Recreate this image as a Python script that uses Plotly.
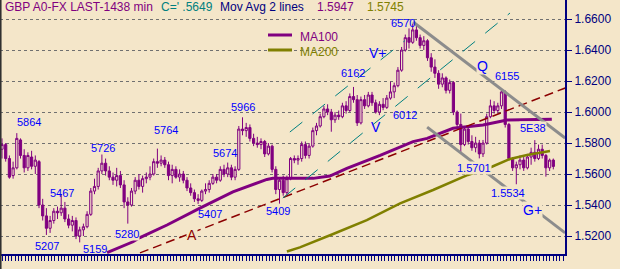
import plotly.graph_objects as go

# ---------------- data (prices in pips: 5864 -> 1.5864) ----------------
opens = [5760,5790,5700,5590,5640,5820,5720,5640,5710,5650,
         5680,5400,5330,5250,5300,5360,5350,5380,5310,5270,
         5300,5200,5240,5260,5340,5490,5520,5620,5670,5620,
         5580,5560,5590,5530,5420,5400,5490,5560,5520,5570,
         5580,5600,5680,5670,5690,5660,5590,5630,5580,5600,
         5560,5510,5480,5440,5430,5490,5500,5540,5580,5560,
         5630,5600,5640,5580,5630,5890,5880,5900,5830,5800,
         5790,5810,5730,5780,5630,5500,5560,5480,5570,5700,
         5690,5700,5790,5720,5780,5880,5910,5970,6020,6000,
         5950,5980,5970,6040,6010,6100,6080,5930,6080,6040,
         6110,6060,6000,6050,6030,6090,6130,6170,6270,6400,
         6480,6450,6530,6480,6430,6460,6350,6290,6250,6180,
         6220,6140,6190,6000,5920,5790,5890,5810,5770,5800,
         5730,5800,5970,6040,6010,6040,6130,5920,5700,5640,
         5660,5690,5640,5710,5740,5700,5760,5720,5640,5690]
highs = [5830,5800,5720,5680,5864,5830,5760,5740,5750,5720,
         5690,5440,5380,5330,5380,5390,5467,5420,5340,5330,
         5320,5260,5280,5360,5510,5570,5640,5726,5700,5650,
         5610,5640,5620,5560,5450,5510,5580,5600,5590,5610,
         5650,5700,5764,5720,5710,5680,5660,5650,5630,5620,
         5580,5540,5500,5470,5500,5540,5560,5600,5600,5650,
         5660,5674,5660,5650,5910,5966,5930,5920,5860,5840,
         5830,5820,5800,5790,5650,5580,5590,5590,5710,5720,
         5720,5810,5810,5800,5900,5930,5990,6040,6050,6020,
         6000,6010,6060,6070,6120,6162,6110,6100,6110,6130,
         6130,6080,6070,6090,6110,6196,6190,6290,6420,6500,
         6540,6570,6560,6500,6490,6470,6380,6340,6270,6250,
         6230,6210,6200,6010,5990,5910,5900,5850,5840,5820,
         5820,5990,6080,6070,6060,6155,6140,5930,5710,5680,
         5720,5710,5730,5770,5819,5790,5790,5730,5700,5700]
lows = [5700,5680,5570,5570,5630,5700,5610,5620,5630,5600,
        5380,5300,5207,5220,5280,5310,5330,5290,5250,5230,
        5180,5159,5200,5250,5330,5470,5500,5600,5590,5560,
        5530,5520,5510,5380,5280,5390,5470,5500,5480,5540,
        5560,5590,5640,5650,5640,5560,5540,5570,5550,5540,
        5490,5460,5420,5407,5420,5470,5480,5530,5540,5550,
        5580,5580,5560,5560,5620,5850,5840,5810,5780,5770,
        5760,5710,5720,5610,5470,5409,5460,5460,5560,5670,
        5660,5680,5700,5700,5770,5850,5900,5960,5980,5873,
        5930,5950,5960,5990,6000,6060,5910,5920,6020,6030,
        6040,5990,5980,6012,6020,6080,6090,6160,6260,6390,
        6410,6440,6460,6410,6400,6330,6260,6220,6150,6160,
        6120,6120,5980,5900,5733,5780,5790,5750,5740,5701,
        5710,5790,5960,5990,5990,6020,5900,5690,5620,5534,
        5630,5620,5630,5660,5680,5690,5700,5583,5620,5630]
closes = [5790,5700,5580,5640,5830,5720,5640,5720,5650,5690,
          5400,5330,5250,5300,5360,5350,5380,5310,5270,5300,
          5200,5240,5260,5340,5490,5520,5620,5670,5620,5580,
          5560,5590,5530,5420,5400,5490,5560,5520,5570,5580,
          5600,5680,5670,5690,5660,5590,5630,5580,5600,5560,
          5510,5480,5440,5430,5490,5500,5540,5580,5560,5630,
          5600,5640,5580,5630,5890,5880,5900,5830,5800,5790,
          5810,5730,5780,5630,5500,5560,5480,5570,5700,5690,
          5700,5790,5720,5780,5880,5910,5970,6020,6000,5950,
          5980,5970,6040,6010,6100,6080,5930,6080,6040,6110,
          6060,6000,6050,6030,6090,6130,6170,6270,6400,6480,
          6450,6530,6480,6430,6460,6350,6290,6250,6180,6220,
          6140,6190,6000,5920,5790,5890,5810,5770,5800,5730,
          5800,5970,6040,6010,6040,6130,5920,5700,5640,5660,
          5690,5640,5710,5740,5700,5760,5720,5640,5690,5649]

# moving averages (bar index, pips)
ma100_x = [28.4, 31.9, 35.4, 37.3, 44.6, 53.5, 62.4, 71.6, 73.2, 84.1,
           88.6, 93.2, 102.2, 111.1, 114.9, 121.9, 130.0, 136.5, 148.6]
ma100_y = [5093, 5130, 5163, 5190, 5271, 5380, 5485, 5565, 5572, 5572,
           5587, 5637, 5720, 5809, 5830, 5895, 5916, 5948, 5953]
ma200_x = [77.0, 80.5, 89.5, 98.6, 107.6, 116.5, 125.9, 132.4, 137.3, 141.9, 148.1]
ma200_y = [5100, 5127, 5213, 5303, 5411, 5497, 5594, 5647, 5697, 5723, 5749]

# drawn trend lines (bar index, pips)
red_x, red_y = [37.3, 152.2], [5091, 6155]
tealA_x, tealA_y = [77.8, 108.9], [5871, 6461]
tealB_x, tealB_y = [75.9, 137.3], [5445, 6639]
grayQ_x, grayQ_y = [111.1, 152.2], [6581, 5832]
grayL_x, grayL_y = [114.9, 152.2], [5903, 5220]

ytick_vals = [1.52, 1.54, 1.56, 1.58, 1.60, 1.62, 1.64, 1.66]
ytick_text = ["1.5200", "1.5400", "1.5600", "1.5800", "1.6000", "1.6200", "1.6400", "1.6600"]

# ---------------- styling ----------------
BG = "#F4E6C9"
PURPLE = "#800080"
OLIVE = "#808000"
NAVY = "#000080"
TEAL = "#008080"
BLUE = "#0000FF"
DRED = "#8B0000"
GRAY = "#8C8C8C"
FONT = "Liberation Sans, Arial, sans-serif"

W, H = 620, 269
ML, MR, MT, MB = 0, 55, 0, 15
PW, PH = W - ML - MR, H - MT - MB
X0, X1 = -0.54, 152.16
Y0, Y1 = 1.5084, 1.6723


def p(v):
    return [None if a is None else a / 10000 + 1 for a in v]


def xd(px):
    return X0 + px / PW * (X1 - X0)


def yd(py):
    return Y1 - py / PH * (Y1 - Y0)


def xp(px):
    return px / PW


def yp(py):
    return 1 - py / PH


idx = list(range(len(closes)))

fig = go.Figure()
fig.add_trace(go.Candlestick(
    x=idx, open=p(opens), high=p(highs), low=p(lows), close=p(closes),
    increasing=dict(line=dict(color=PURPLE, width=1), fillcolor=BG),
    decreasing=dict(line=dict(color=PURPLE, width=1), fillcolor=PURPLE),
    whiskerwidth=0, hoverinfo="skip"))

fig.add_trace(go.Scatter(x=ma100_x, y=p(ma100_y), mode="lines",
                         line=dict(color=PURPLE, width=3), hoverinfo="skip"))
fig.add_trace(go.Scatter(x=ma200_x, y=p(ma200_y), mode="lines",
                         line=dict(color=OLIVE, width=2.5), hoverinfo="skip"))
fig.add_trace(go.Scatter(x=red_x, y=p(red_y), mode="lines",
                         line=dict(color=DRED, width=1.5, dash="9px,5px"), hoverinfo="skip"))
for tx, ty in [(tealA_x, tealA_y), (tealB_x, tealB_y)]:
    fig.add_trace(go.Scatter(x=tx, y=p(ty), mode="lines",
                             line=dict(color=TEAL, width=1, dash="16px,13px"), hoverinfo="skip"))
for gx, gy in [(grayQ_x, grayQ_y), (grayL_x, grayL_y)]:
    fig.add_trace(go.Scatter(x=gx, y=p(gy), mode="lines",
                             line=dict(color=GRAY, width=3), hoverinfo="skip"))

annotations = []

# price labels on the chart: (text, px x centre, px y centre, colour, size, opaque)
labels = [
    ("5864", 28.5, 122, BLUE, 11, False),
    ("5726", 102.5, 148, BLUE, 11, False),
    ("5467", 61.5, 193, BLUE, 11, False),
    ("5207", 46.5, 246, BLUE, 11, False),
    ("5159", 94.5, 249, BLUE, 11, False),
    ("5280", 126.5, 234, BLUE, 11, True),
    ("5764", 165.5, 130, BLUE, 11, False),
    ("5966", 242.5, 107, BLUE, 11, False),
    ("5674", 224.5, 153, BLUE, 11, False),
    ("5407", 209.5, 214, BLUE, 11, False),
    ("5409", 277.5, 211, BLUE, 11, True),
    ("6162", 352.5, 73, BLUE, 11, False),
    ("6012", 405, 115, BLUE, 11, False),
    ("6570", 402.5, 23, BLUE, 11, False),
    ("6155", 506.5, 76, BLUE, 11, True),
    ("5E38", 532.5, 128, BLUE, 11, True),
    ("1.5701", 474, 168, BLUE, 11, True),
    ("1.5534", 507.5, 193, BLUE, 11, True),
    ("A", 192, 235, DRED, 14, True),
    ("V+", 377.5, 53, BLUE, 14, False),
    ("V", 375.5, 127, BLUE, 14, False),
    ("Q", 482, 66, BLUE, 14, True),
    ("G+", 532, 210, BLUE, 14, True),
]
for t, px, py, c, s, opaque in labels:
    annotations.append(dict(
        text=t, x=xd(px), y=yd(py), xref="x", yref="y", showarrow=False,
        xanchor="center", yanchor="middle", font=dict(family=FONT, size=s, color=c),
        bgcolor=BG if opaque else "rgba(0,0,0,0)", borderpad=0))

# header texts
header = [
    ("GBP A0-FX LAST-1438 min", 3, PURPLE),
    ("C=' .5649", 159, TEAL),
    ("Mov Avg 2 lines", 218, NAVY),
    ("1.5947", 315, PURPLE),
    ("1.5745", 365, OLIVE),
]
for t, px, c in header:
    annotations.append(dict(
        text=t, x=xp(px), y=yp(7), xref="paper", yref="paper", showarrow=False,
        xanchor="left", yanchor="middle", font=dict(family=FONT, size=12, color=c)))

# legend
shapes = []
for name, py, c in [("MA100", 35, PURPLE), ("MA200", 50, OLIVE)]:
    shapes.append(dict(type="line", xref="paper", yref="paper",
                       x0=xp(268), x1=xp(292), y0=yp(py), y1=yp(py),
                       line=dict(color=c, width=3)))
    annotations.append(dict(
        text=name, x=xp(298), y=yp(py + 2), xref="paper", yref="paper", showarrow=False,
        xanchor="left", yanchor="middle", font=dict(family=FONT, size=12, color=c)))

# left window border
shapes.append(dict(type="line", xref="paper", yref="paper", x0=0.001, x1=0.001,
                   y0=yp(H - MT), y1=yp(-MT), line=dict(color="#303030", width=2)))

fig.update_layout(
    width=W, height=H,
    margin=dict(l=ML, r=MR, t=MT, b=MB, pad=0),
    paper_bgcolor=BG, plot_bgcolor=BG,
    showlegend=False,
    boxgap=0.15,
    annotations=annotations, shapes=shapes,
    xaxis=dict(range=[X0, X1], showgrid=False, zeroline=False,
               showline=True, linecolor=NAVY, linewidth=2,
               ticks="outside", ticklen=5, tickwidth=1, tickcolor=NAVY,
               tick0=0, dtick=3.3 / 3.7, showticklabels=False,
               rangeslider=dict(visible=False), fixedrange=True),
    yaxis=dict(range=[Y0, Y1], side="right", tickvals=ytick_vals, ticktext=ytick_text,
               showgrid=True, gridcolor="#707070", gridwidth=1, griddash="dot",
               zeroline=False, showline=True, linecolor=NAVY, linewidth=2,
               ticks="outside", ticklen=5, tickwidth=1, tickcolor=NAVY,
               tickfont=dict(family=FONT, size=12, color=NAVY), fixedrange=True),
)

fig.write_html("out.html")
